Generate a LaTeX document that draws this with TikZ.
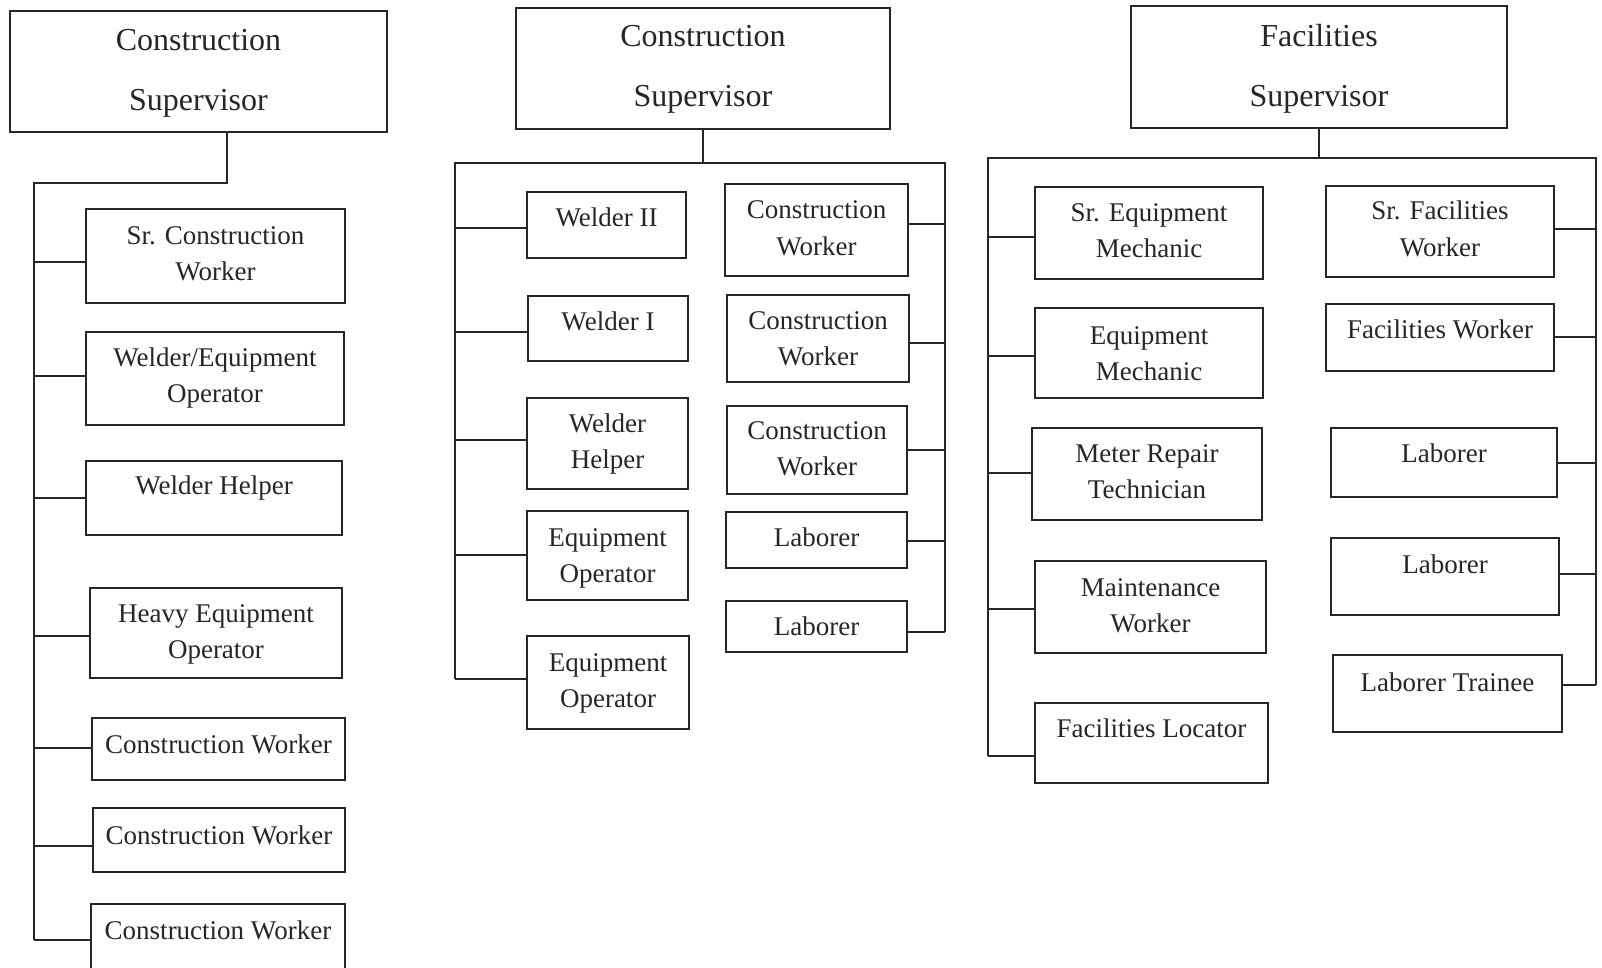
\documentclass[tikz,border=0pt]{standalone}
\usepackage{fontspec}
\setmainfont{Liberation Serif}

\tikzset{
  orgline/.style={line width=2.4pt, draw=black!85, line join=miter},
  boxshape/.style={rectangle, draw=black!85, line width=2.4pt, inner sep=0pt},
  lbl/.style={font=\fontsize{27}{36}\selectfont, text=black!85, align=center,
              anchor=base, inner sep=0pt},
  suplbl/.style={lbl, font=\fontsize{32}{60}\selectfont},
}

% #1 name, #2 x1, #3 y1, #4 x2, #5 y2, #6 baseline of the last line, #7 text
\newcommand\placebox[7]{%
  \node[boxshape, minimum width={#4-#2}, minimum height={#5-#3}]
    (#1) at ({(#2+#4)/2},{(#3+#5)/2}) {};
  \node[lbl] (#1-t) at ({(#2+#4)/2},#6) {#7};
}
\newcommand\placesup[7]{%
  \node[boxshape, minimum width={#4-#2}, minimum height={#5-#3}]
    (#1) at ({(#2+#4)/2},{(#3+#5)/2}) {};
  \node[suplbl] (#1-t) at ({(#2+#4)/2},#6) {#7};
}
% branch from a trunk coordinate (#2) to a box (#1) at height #3
\newcommand\branchW[3]{\draw[orgline] (#2 |- 0,#3) -- (#1.west |- 0,#3);}
\newcommand\branchE[3]{\draw[orgline] (#2 |- 0,#3) -- (#1.east |- 0,#3);}

\begin{document}
\begin{tikzpicture}[x=1pt,y=-1pt]
\useasboundingbox (0,0) rectangle (1602,968);
\fill[white] (0,0) rectangle (1602,968);
\clip (0,0) rectangle (1602,968);

% ---------- first construction crew ----------
\placesup{s1}{10}{11}{387}{132}{111}{Construction\\Supervisor}
\placebox{a1}{86}{209}{345}{303}{280}{Sr. Construction\\Worker}
\placebox{a2}{86}{332}{344}{425}{402}{Welder/Equipment\\Operator}
\placebox{a3}{86}{461}{342}{535}{494}{Welder Helper}
\placebox{a4}{90}{588}{342}{678}{658}{Heavy Equipment\\Operator}
\placebox{a5}{92}{718}{345}{780}{753}{Construction Worker}
\placebox{a6}{93}{808}{345}{872}{844}{Construction Worker}
\placebox{a7}{91}{904}{345}{976}{939}{Construction Worker}

\coordinate (aD) at (227,183);
\coordinate (aL) at (34,183);
\coordinate (aB) at (34,940);
\draw[orgline] (s1.south -| aD) -- (aD) -- (aL) -- (aB);
\branchW{a1}{aL}{262}
\branchW{a2}{aL}{376}
\branchW{a3}{aL}{498}
\branchW{a4}{aL}{636}
\branchW{a5}{aL}{748}
\branchW{a6}{aL}{846}
\branchW{a7}{aL}{940}

% ---------- second construction crew ----------
\placesup{s2}{516}{8}{890}{129}{107}{Construction\\Supervisor}
\placebox{b1}{527}{192}{686}{258}{227}{Welder II}
\placebox{b2}{528}{296}{688}{361}{330}{Welder I}
\placebox{b3}{527}{398}{688}{489}{468}{Welder\\Helper}
\placebox{b4}{527}{511}{688}{600}{582}{Equipment\\Operator}
\placebox{b5}{527}{636}{689}{729}{707}{Equipment\\Operator}
\placebox{b6}{725}{184}{908}{276}{255}{Construction\\Worker}
\placebox{b7}{727}{295}{909}{382}{365}{Construction\\Worker}
\placebox{b8}{727}{406}{907}{494}{475}{Construction\\Worker}
\placebox{b9}{726}{512}{907}{568}{546}{Laborer}
\placebox{b10}{726}{601}{907}{652}{635}{Laborer}

\coordinate (bL) at (455,163);
\coordinate (bR) at (945,163);
\coordinate (bLB) at (455,679);
\coordinate (bRB) at (945,632);
\draw[orgline] (s2.south) -- (s2.south |- bL);
\draw[orgline] (bLB) -- (bL) -- (bR) -- (bRB);
\branchW{b1}{bL}{228}
\branchW{b2}{bL}{332}
\branchW{b3}{bL}{440}
\branchW{b4}{bL}{555}
\branchW{b5}{bL}{679}
\branchE{b6}{bR}{224}
\branchE{b7}{bR}{343}
\branchE{b8}{bR}{450}
\branchE{b9}{bR}{541}
\branchE{b10}{bR}{632}

% ---------- facilities crew ----------
\placesup{s3}{1131}{6}{1507}{128}{107}{Facilities\\Supervisor}
\placebox{c1}{1035}{187}{1263}{279}{258}{Sr. Equipment\\Mechanic}
\placebox{c2}{1035}{308}{1263}{398}{380}{Equipment\\Mechanic}
\placebox{c3}{1032}{428}{1262}{520}{498}{Meter Repair\\Technician}
\placebox{c4}{1035}{561}{1266}{653}{632}{Maintenance\\Worker}
\placebox{c5}{1035}{703}{1268}{783}{737}{Facilities Locator}
\placebox{c6}{1326}{186}{1554}{277}{256}{Sr. Facilities\\Worker}
\placebox{c7}{1326}{304}{1554}{371}{338}{Facilities Worker}
\placebox{c8}{1331}{428}{1557}{497}{462}{Laborer}
\placebox{c9}{1331}{538}{1559}{615}{573}{Laborer}
\placebox{c10}{1333}{655}{1562}{732}{691}{Laborer Trainee}

\coordinate (cL) at (988,158);
\coordinate (cR) at (1596,158);
\coordinate (cLB) at (988,756);
\coordinate (cRB) at (1596,685);
\draw[orgline] (s3.south) -- (s3.south |- cL);
\draw[orgline] (cLB) -- (cL) -- (cR) -- (cRB);
\branchW{c1}{cL}{237}
\branchW{c2}{cL}{356}
\branchW{c3}{cL}{473}
\branchW{c4}{cL}{609}
\branchW{c5}{cL}{756}
\branchE{c6}{cR}{229}
\branchE{c7}{cR}{337}
\branchE{c8}{cR}{463}
\branchE{c9}{cR}{574}
\branchE{c10}{cR}{685}
\end{tikzpicture}
\end{document}
